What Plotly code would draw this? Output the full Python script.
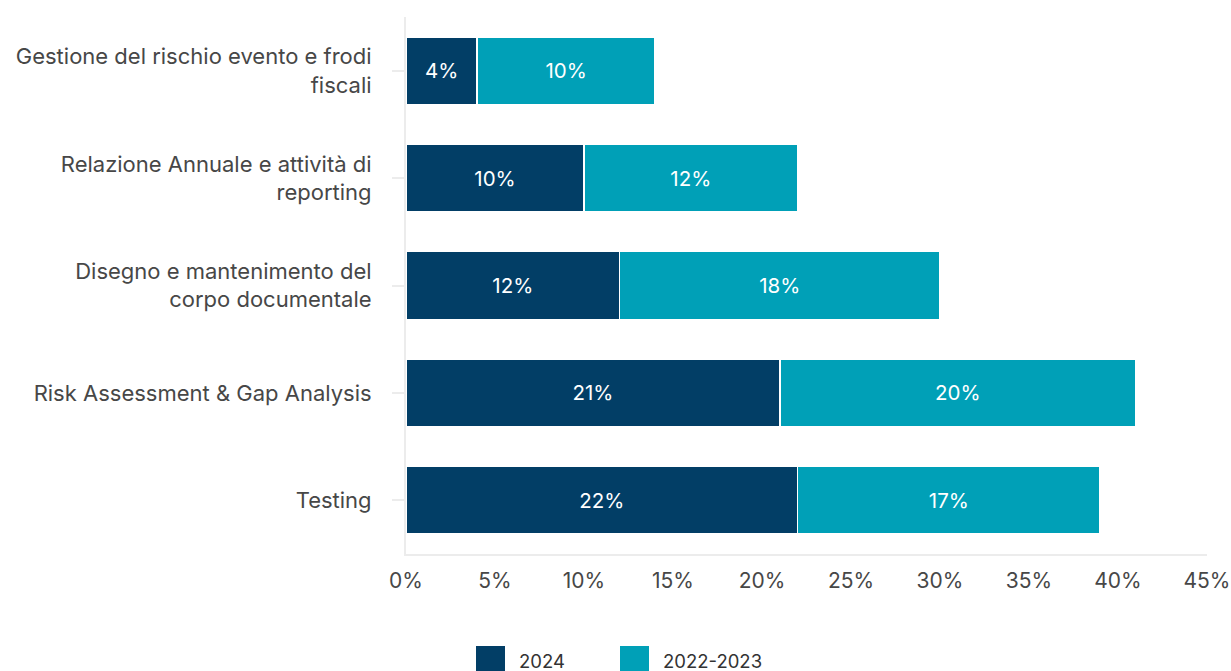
import plotly.graph_objects as go

categories = [
    "Gestione del rischio evento e frodi<br>fiscali",
    "Relazione Annuale e attività di<br>reporting",
    "Disegno e mantenimento del<br>corpo documentale",
    "Risk Assessment & Gap Analysis",
    "Testing",
]
values_2024 = [4, 10, 12, 21, 22]
values_2022_2023 = [10, 12, 18, 20, 17]
series_names = ["2024", "2022-2023"]
colors = ["#023e66", "#00a0b7"]
tick_vals = [0, 5, 10, 15, 20, 25, 30, 35, 40, 45]
tick_text = [f"{v}%" for v in tick_vals]

FONT = "Inter, Roboto, sans-serif"
TEXT_COLOR = "#474747"

# plot area in pixels
L, R, T, B = 406, 24, 17, 117
FIG_W, FIG_H = 1231, 671
PW = FIG_W - L - R
PH = FIG_H - T - B

fig = go.Figure()
for name, vals, col in zip(series_names, [values_2024, values_2022_2023], colors):
    fig.add_trace(go.Bar(
        y=categories,
        x=vals,
        name=name,
        orientation="h",
        marker=dict(color=col, line=dict(color="white", width=1.5)),
        text=[f"{v}%" for v in vals],
        textposition="inside",
        insidetextanchor="middle",
        textfont=dict(color="white", size=20.5, family=FONT),
        textangle=0,
        hoverinfo="skip",
    ))

fig.update_layout(
    barmode="stack",
    bargap=0.37,
    width=FIG_W,
    height=FIG_H,
    margin=dict(l=L, r=R, t=T, b=B, autoexpand=False),
    plot_bgcolor="white",
    paper_bgcolor="white",
    showlegend=False,
    font=dict(family=FONT, color=TEXT_COLOR, size=20),
    uniformtext=dict(mode="show", minsize=10),
)

fig.update_xaxes(
    range=[0, 45],
    tickvals=tick_vals,
    ticktext=tick_text,
    showgrid=False,
    zeroline=False,
    showline=True,
    linecolor="#ececec",
    linewidth=2,
    ticks="",
    automargin=False,
    ticklabelstandoff=7,
    tickfont=dict(size=21, color=TEXT_COLOR, family=FONT),
)
fig.update_yaxes(
    categoryorder="array",
    categoryarray=categories,
    autorange="reversed",
    showgrid=False,
    zeroline=False,
    showline=True,
    linecolor="#ececec",
    linewidth=2,
    ticks="outside",
    ticklen=12,
    tickcolor="#ececec",
    tickwidth=2,
    automargin=False,
    ticklabelstandoff=16,
    tickfont=dict(size=22, color=TEXT_COLOR, family=FONT),
)

# Legend drawn as swatches with labels below the plot
legend_items = [(476, "2024"), (620, "2022-2023")]
for (x0, label), col in zip(legend_items, colors):
    fig.add_shape(
        type="rect", xref="paper", yref="paper",
        x0=(x0 - L) / PW,
        x1=(x0 + 29 - L) / PW,
        y0=(T + PH - 676) / PH,
        y1=(T + PH - 646) / PH,
        fillcolor=col, line=dict(width=0),
    )
    fig.add_annotation(
        xref="paper", yref="paper",
        x=(x0 + 41 - L) / PW,
        y=(T + PH - 661) / PH,
        text=label, showarrow=False,
        xanchor="left", yanchor="middle",
        font=dict(size=18.5, color="#333333", family=FONT),
    )

fig.write_html("out.html")
